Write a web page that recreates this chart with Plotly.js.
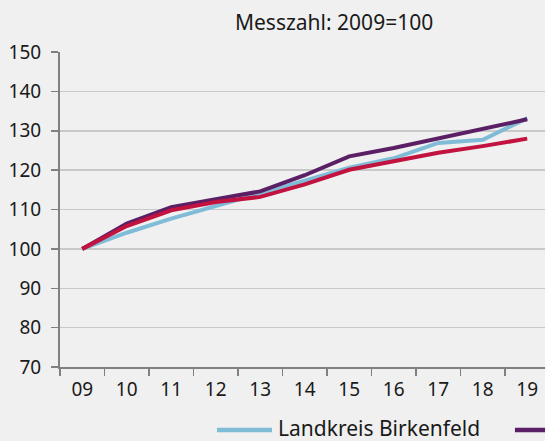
<!DOCTYPE html>
<html>
<head>
<meta charset="utf-8">
<script src="https://cdn.plot.ly/plotly-3.0.1.min.js"></script>
<style>
  html, body { margin: 0; padding: 0; background: #eff0ef; }
  #chart { width: 545px; height: 441px; }
</style>
</head>
<body>
<div id="chart"></div>
<script>
const years = ['09', '10', '11', '12', '13', '14', '15', '16', '17', '18', '19'];
const seriesNames = ['Landkreis Birkenfeld', 'Rheinland-Pfalz', 'Deutschland'];
const birkenfeld = [100, 104.1, 107.7, 110.9, 113.9, 117.3, 120.6, 123.0, 126.9, 127.7, 133.2];
const rheinlandPfalz = [100, 106.4, 110.6, 112.6, 114.6, 118.7, 123.5, 125.6, 128.0, 130.3, 132.9];
const deutschland = [100, 105.8, 109.8, 111.9, 113.2, 116.4, 120.1, 122.2, 124.4, 126.1, 128.0];
const colors = ['#80bcd8', '#5b1f66', '#c2123f'];
const yTicks = [70, 80, 90, 100, 110, 120, 130, 140, 150];

const seriesValues = [birkenfeld, rheinlandPfalz, deutschland];
const traces = seriesValues.map((vals, i) => ({
  type: 'scatter',
  mode: 'lines',
  x: years,
  y: vals,
  name: seriesNames[i],
  line: { color: colors[i], width: 4 },
  hoverinfo: 'skip',
  showlegend: false
}));

const fam = 'Noto Sans, Open Sans, sans-serif';
const tickFont = { family: fam, size: 19, color: '#1a1a1a' };
const bigFont = { family: fam, size: 21, color: '#1a1a1a' };

// Legend row: only the first entry and the start of the second entry's line
// are visible inside the picture (the row runs past the right edge).
const legendLine = [[0.3237, 0.4371], [0.938, 1.0515]];
const legendY = -0.194;
const shapes = legendLine.map((p, i) => ({
  type: 'line', xref: 'paper', yref: 'paper',
  x0: p[0], x1: p[1], y0: -0.2, y1: -0.2,
  line: { color: colors[i], width: 4.5 }
}));
const annotations = [{
  xref: 'paper', yref: 'paper', x: 0.4474, y: legendY,
  xanchor: 'left', yanchor: 'middle', text: seriesNames[0], showarrow: false,
  font: bigFont, borderpad: 0
}];

const layout = {
  width: 545,
  height: 441,
  margin: { l: 60, r: 0, t: 52, b: 74, autoexpand: false },
  paper_bgcolor: '#eff0ef',
  plot_bgcolor: '#eff0ef',
  font: tickFont,
  title: {
    text: 'Messzahl: 2009=100',
    font: bigFont,
    x: 0.613, xref: 'container', xanchor: 'center',
    y: 0.948, yref: 'container', yanchor: 'middle'
  },
  xaxis: {
    type: 'category',
    range: [-0.5, 10.4],
    tickson: 'boundaries',
    ticks: 'outside',
    ticklen: 7,
    tickwidth: 1.5,
    tickcolor: '#808080',
    showline: true,
    linecolor: '#808080',
    linewidth: 2,
    showgrid: false,
    zeroline: false,
    tickfont: tickFont,
    ticklabelstandoff: 4
  },
  yaxis: {
    range: [70, 150],
    tickvals: yTicks,
    ticks: 'outside',
    ticklen: 7,
    tickwidth: 1.5,
    tickcolor: '#808080',
    showline: true,
    linecolor: '#808080',
    linewidth: 2,
    gridcolor: '#c9c9c9',
    gridwidth: 1.5,
    zeroline: false,
    tickfont: tickFont,
    ticklabelstandoff: 6
  },
  showlegend: false,
  shapes: shapes,
  annotations: annotations
};

Plotly.newPlot('chart', traces, layout, { displayModeBar: false, staticPlot: true });
</script>
</body>
</html>
